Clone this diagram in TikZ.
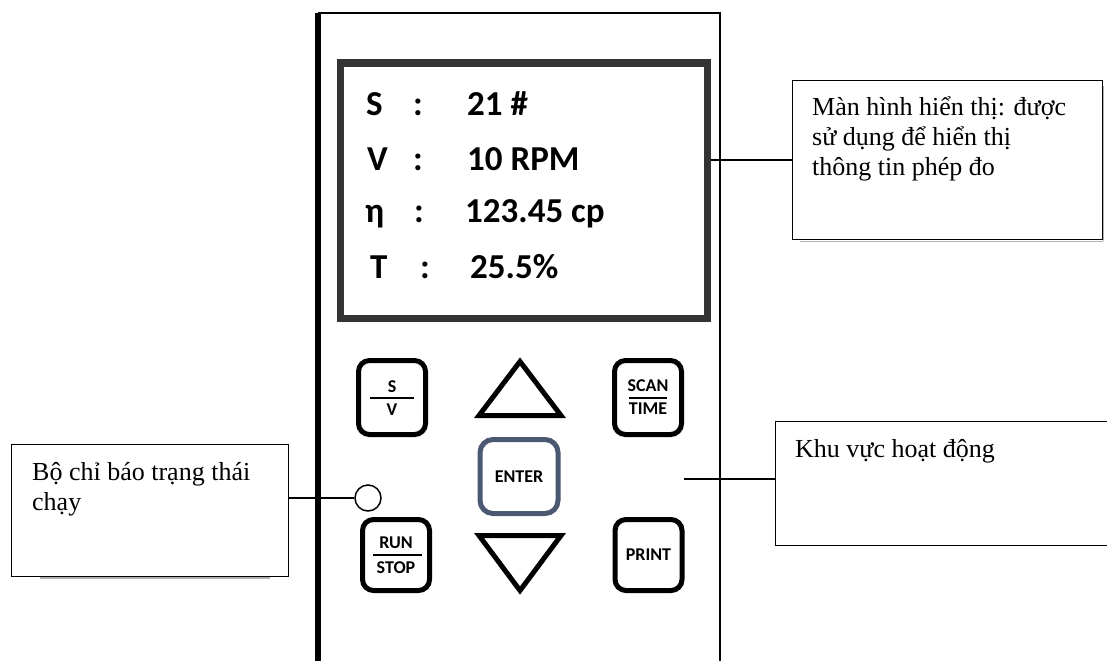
\documentclass[tikz,border=0pt]{standalone}
\usepackage{fontspec}
\usepackage{graphicx}
\setmainfont{Liberation Serif}
\newfontfamily\lcdfont{Carlito}
\definecolor{enterblue}{HTML}{4A5872}
\tikzset{
  callout/.style={draw=black, line width=1.3pt, fill=white, anchor=north west, inner sep=0pt},
  calltext/.style={anchor=base west, inner sep=0pt, font=\fontsize{26}{30}\selectfont},
  lcd/.style={anchor=base west, inner sep=0pt, font=\lcdfont\bfseries\fontsize{35}{40}\selectfont},
  key/.style={draw=black, line width=5pt, rounded corners=11pt, minimum width=67pt, minimum height=74pt, inner sep=0pt},
  keylabel/.style={inner sep=0pt, font=\lcdfont\bfseries\fontsize{18}{18}\selectfont},
  keyrule/.style={line width=2pt},
  arrowkey/.style={line width=5pt, line join=miter},
  leader/.style={line width=1.8pt},
  boxshadow/.style={gray!60, line width=1.6pt}
}
\begin{document}
\begin{tikzpicture}[x=1pt,y=-1pt]
\useasboundingbox (0,0) rectangle (1107,661);
\clip (0,0) rectangle (1107,661);
\fill[white] (0,0) rectangle (1107,661);
% device outline
\draw[line width=5.5pt] (318,13) -- (318,661);
\draw[line width=1.6pt] (318,13) -- (720,13) -- (720,661);
% screen
\node[draw=black!80, line width=7pt, minimum width=367pt, minimum height=255pt, anchor=north west, inner sep=0pt] (scr) at (336.5,59.5) {};
\node[lcd] (l1a) at (366,115) {S};
\node[lcd] (l1b) at (413,115) {:};
\node[lcd] (l1c) at (467,115) {21 \#};
\node[lcd] (l2a) at (367,170) {V};
\node[lcd] (l2b) at (413,170) {:};
\node[lcd] (l2c) at (467,170) {10 RPM};
\node[lcd] (l3a) at (365,222) {η};
\node[lcd] (l3b) at (414,222) {:};
\node[lcd] (l3c) at (465,222) {123.45 cp};
\node[lcd] (l4a) at (370,278) {T};
\node[lcd] (l4b) at (420,278) {:};
\node[lcd] (l4c) at (470,278) {25.5\%};
% keys
\node[key] (sv) at (392,397.5) {};
\node[keylabel] (svs) at (392,387) {S};
\node[keylabel] (svv) at (392,410) {V};
\draw[keyrule] ([xshift=-22pt]sv.center) -- ([xshift=22pt]sv.center);
\node[key] (scan) at (648,397.5) {};
\node[keylabel] (scans) at (648,386) {SCAN};
\node[keylabel] (scant) at (648,409) {TIME};
\draw[keyrule] ([xshift=-19pt]scan.center) -- ([xshift=19pt]scan.center);
\node[key, minimum height=71pt] (run) at (396,555) {};
\node[keylabel] (runr) at (396,543) {RUN};
\node[keylabel] (runs) at (396,568) {STOP};
\draw[keyrule] ([xshift=-23pt]run.center) -- ([xshift=26pt]run.center);
\node[key, minimum height=71pt] (print) at (648.5,555) {};
\node[keylabel] (printl) at (648.5,555) {PRINT};
\node[key, draw=enterblue, minimum width=78pt, minimum height=74pt, rounded corners=13pt] (enter) at (519,476.5) {};
\node[keylabel] (enterl) at (519,477) {ENTER};
% arrow keys
\draw[arrowkey] (520,361.5) -- (561,415.5) -- (479,415.5) -- cycle;
\draw[arrowkey] (520,590.5) -- (561,535.5) -- (479,535.5) -- cycle;
% run indicator
\node[draw, circle, line width=1.5pt, minimum size=26pt, inner sep=0pt] (led) at (368,498) {};
% callouts
\draw[boxshadow] (800,241.5) -- (1103,241.5);
\draw[boxshadow] (1103.5,86) -- (1103.5,241);
\node[callout, minimum width=310pt, minimum height=159pt] (mh) at (792,80) {};
\node[calltext] (mht1) at (812,115) {Màn hình hiển thị: được};
\node[calltext] (mht2) at (812,145) {sử dụng để hiển thị};
\node[calltext] (mht3) at (812,175) {thông tin phép đo};
\draw[boxshadow] (40,578) -- (270,578);
\node[callout, minimum width=277pt, minimum height=132pt] (bo) at (11,444) {};
\node[calltext] (bot1) at (32,480) {Bộ chỉ báo trạng thái};
\node[calltext] (bot2) at (32,510) {chạy};
\node[callout, minimum width=345pt, minimum height=124pt] (kv) at (775,421) {};
\node[calltext] (kvt) at (795,457) {Khu vực hoạt động};
% leaders
\draw[leader] (scr.east |- mh.west) -- (mh.west);
\draw[leader] (led.west) -- (led.west -| bo.east);
\draw[leader] ([yshift=5pt]kv.west) -- ([yshift=5pt]kv.west -| scan.east);
\end{tikzpicture}
\end{document}
